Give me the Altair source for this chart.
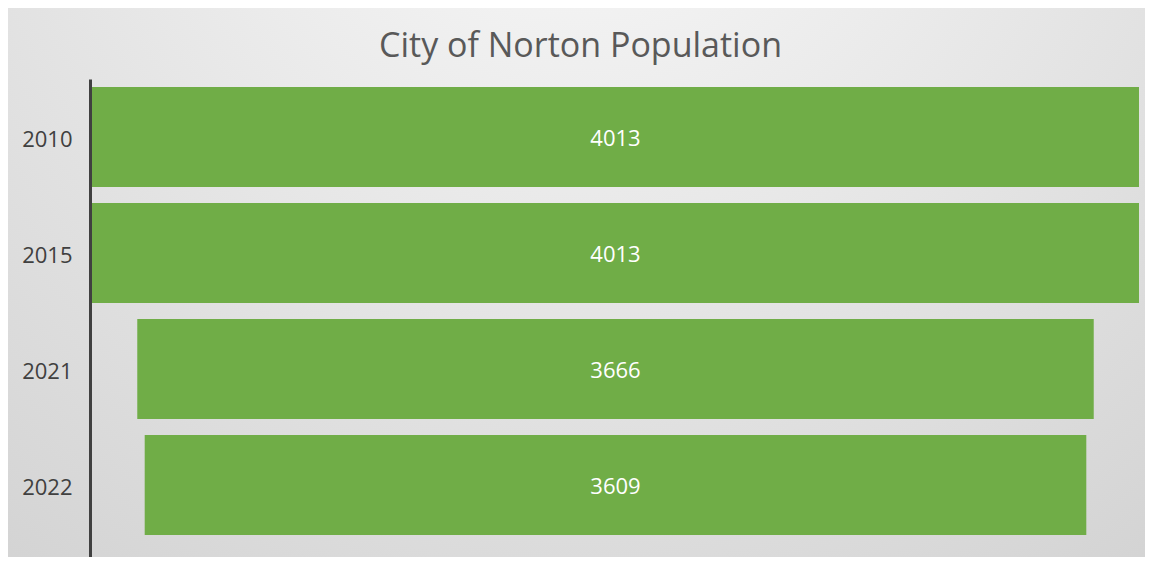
import altair as alt
import pandas as pd

years = ["2010", "2015", "2021", "2022"]
population = [4013, 4013, 3666, 3609]

df = pd.DataFrame({"year": years, "pop": population})

W, H = 1047, 478
maxv = max(population)

bg = alt.Chart(pd.DataFrame({"a": [0]})).mark_rect(
    fill=alt.Gradient(
        gradient="radial",
        x1=0.5, y1=0.05, r1=0.0,
        x2=0.5, y2=0.05, r2=1.1,
        stops=[alt.GradientStop(color="#fbfbfb", offset=0),
               alt.GradientStop(color="#c8c8c8", offset=1)],
    )
).encode(x=alt.value(-90), x2=alt.value(W + 12), y=alt.value(-74), y2=alt.value(H + 10))

base = alt.Chart(df).transform_calculate(
    lo="-datum.pop/2", hi="datum.pop/2", mid="0"
)

yenc = alt.Y("year:N", sort=years,
             scale=alt.Scale(paddingInner=0.1379, paddingOuter=0.1293, align=0.267),
             axis=alt.Axis(title=None, ticks=False, domain=True, domainColor="#404040",
                           domainWidth=3, offset=2, labelFontSize=22, labelColor="#404040",
                           labelFont="Open Sans", labelPadding=18, labelOffset=3,
                           grid=False, zindex=1))

xscale = alt.Scale(domain=[-maxv / 2, maxv / 2], nice=False, zero=False)

bars = base.mark_bar(color="#70AD47").encode(
    y=yenc,
    x=alt.X("lo:Q", scale=xscale, axis=None),
    x2="hi:Q",
)

labels = base.mark_text(color="white", fontSize=22, font="Open Sans", dy=2).encode(
    y=alt.Y("year:N", sort=years),
    x=alt.X("mid:Q", scale=xscale),
    text="pop:Q",
)

chart = alt.layer(bg, bars, labels).properties(
    width=W, height=H,
    title=alt.TitleParams("City of Norton Population", fontSize=34, font="Open Sans",
                          fontWeight="normal", color="#595959", offset=-59, anchor="middle",
                          dx=-35),
    autosize=alt.AutoSizeParams(type="none"),
    padding={"left": 84, "top": 71, "right": 6, "bottom": 0},
).configure_view(stroke=None).configure(background="white")

chart.save("out.html", embed_options={"renderer": "svg", "actions": False})
